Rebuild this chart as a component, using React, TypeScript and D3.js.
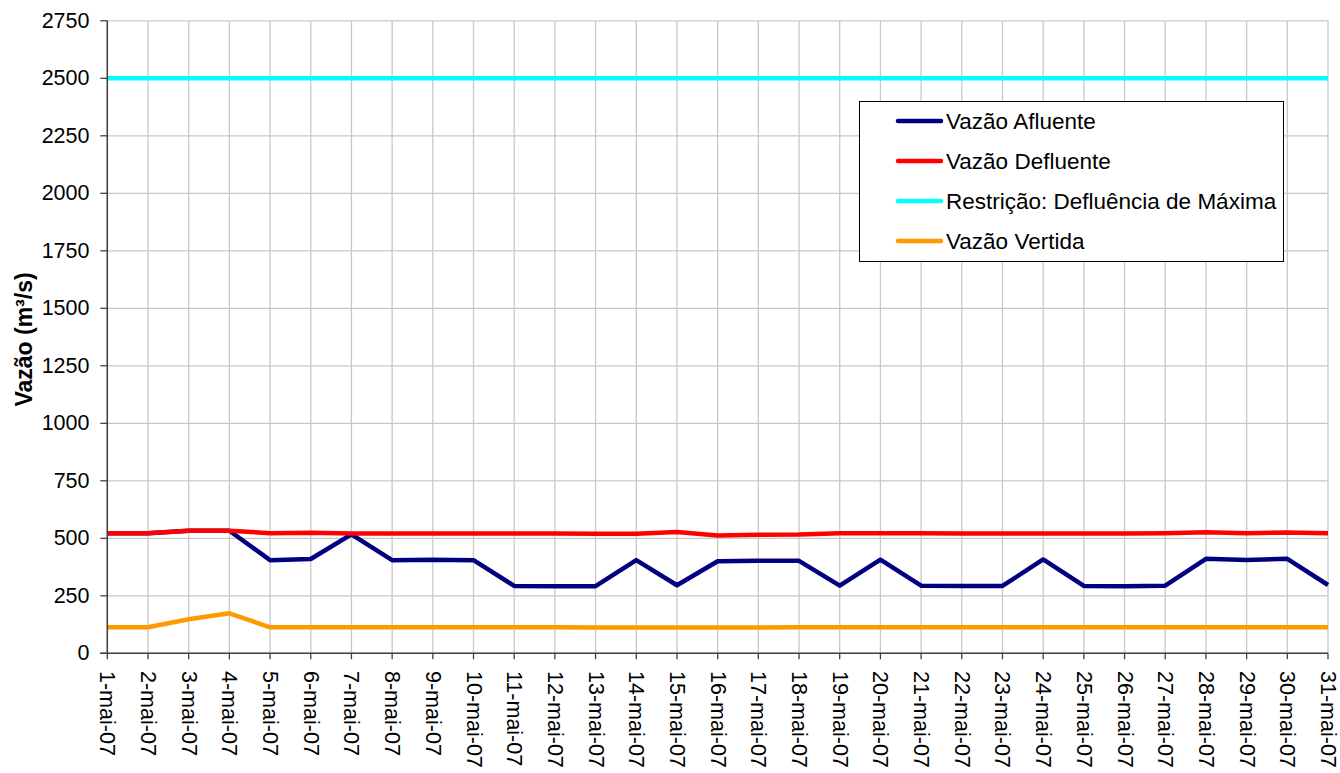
import React from "react";
import * as d3 from "d3";

const categories = [
  "1-mai-07", "2-mai-07", "3-mai-07", "4-mai-07", "5-mai-07", "6-mai-07", "7-mai-07", "8-mai-07",
  "9-mai-07", "10-mai-07", "11-mai-07", "12-mai-07", "13-mai-07", "14-mai-07", "15-mai-07", "16-mai-07",
  "17-mai-07", "18-mai-07", "19-mai-07", "20-mai-07", "21-mai-07", "22-mai-07", "23-mai-07", "24-mai-07",
  "25-mai-07", "26-mai-07", "27-mai-07", "28-mai-07", "29-mai-07", "30-mai-07", "31-mai-07",
];

const vazaoAfluente = [
  522, 522, 533, 533, 405, 410, 517, 405, 407, 405, 293, 292, 292, 405, 296, 400,
  402, 402, 294, 407, 294, 293, 293, 408, 293, 291, 294, 411, 406, 411, 297,
];
const vazaoDefluente = [
  522, 522, 533, 533, 522, 524, 521, 521, 521, 521, 521, 521, 520, 520, 527, 512,
  515, 516, 522, 522, 522, 521, 521, 521, 521, 521, 522, 526, 522, 525, 522,
];
const restricao = [
  2500, 2500, 2500, 2500, 2500, 2500, 2500, 2500, 2500, 2500, 2500, 2500, 2500, 2500, 2500, 2500,
  2500, 2500, 2500, 2500, 2500, 2500, 2500, 2500, 2500, 2500, 2500, 2500, 2500, 2500, 2500,
];
const vazaoVertida = [
  113, 113, 148, 174, 113, 113, 113, 113, 113, 113, 113, 113, 112, 112, 112, 112,
  112, 113, 113, 113, 113, 113, 113, 113, 113, 113, 113, 113, 113, 113, 113,
];

const yTicks = [0, 250, 500, 750, 1000, 1250, 1500, 1750, 2000, 2250, 2500, 2750];

const seriesNames = [
  "Vazão Afluente",
  "Vazão Defluente",
  "Restrição: Defluência de Máxima",
  "Vazão Vertida",
];
const seriesColors = ["#000080", "#ff0000", "#00ffff", "#ff9900"];
const seriesValues = [vazaoAfluente, vazaoDefluente, restricao, vazaoVertida];

const W = 1340;
const H = 773;
const left = 107.3;
const right = 1328;
const top = 20.8;
const bottom = 653.3;
const FONT = "Liberation Sans, Arial, sans-serif";

export default function App() {
  const x = d3.scalePoint<string>().domain(categories).range([left, right]);
  const y = d3.scaleLinear().domain([0, 2750]).range([bottom, top]);
  const line = d3
    .line<number>()
    .x((_, i) => x(categories[i]) as number)
    .y((d) => y(d));

  const legendX = 859.5;
  const legendY = 101.5;
  const legendW = 424;
  const legendH = 160;
  const rowYs = [121, 161, 201, 241];

  return (
    <div style={{ position: "absolute", left: 0, top: 0 }}>
      <svg width={W} height={H} style={{ display: "block", background: "#fff" }}>
        <rect x={0} y={0} width={W} height={H} fill="#fff" />
        {yTicks.map((t) => (
          <line key={"gy" + t} x1={left} x2={right} y1={y(t)} y2={y(t)} stroke="#c8c8c8" strokeWidth={1.3} />
        ))}
        {categories.map((c) => (
          <line key={"gx" + c} x1={x(c)} x2={x(c)} y1={top} y2={bottom} stroke="#c8c8c8" strokeWidth={1.3} />
        ))}
        {seriesValues.map((vals, i) => (
          <path
            key={seriesNames[i]}
            d={line(vals) || ""}
            fill="none"
            stroke={seriesColors[i]}
            strokeWidth={4.5}
            strokeLinejoin="round"
          />
        ))}
        <line x1={left} x2={left} y1={top} y2={bottom} stroke="#404040" strokeWidth={1.5} />
        <line x1={left - 7} x2={right} y1={bottom} y2={bottom} stroke="#404040" strokeWidth={1.5} />
        {yTicks.map((t) => (
          <g key={"yt" + t}>
            <line x1={left - 7} x2={left} y1={y(t)} y2={y(t)} stroke="#404040" strokeWidth={1.3} />
            <text
              x={89.5}
              y={y(t)}
              textAnchor="end"
              dominantBaseline="central"
              fontFamily={FONT}
              fontSize={21.5}
              fill="#000"
            >
              {t}
            </text>
          </g>
        ))}
        {categories.map((c) => (
          <g key={"xt" + c}>
            <line x1={x(c)} x2={x(c)} y1={bottom} y2={bottom + 6} stroke="#404040" strokeWidth={1.3} />
            <text
              transform={`translate(${x(c)},${671}) rotate(90)`}
              textAnchor="start"
              dominantBaseline="central"
              fontFamily={FONT}
              fontSize={21.5}
              fill="#000"
            >
              {c}
            </text>
          </g>
        ))}
        <text
          transform={`translate(32,339.5) rotate(-90)`}
          textAnchor="middle"
          fontFamily={FONT}
          fontSize={23}
          fontWeight="bold"
          fill="#000"
        >
          Vazão (m³/s)
        </text>
        <rect x={legendX} y={legendY} width={legendW} height={legendH} fill="#fff" stroke="#000" strokeWidth={1} />
        {seriesNames.map((n, i) => (
          <g key={"lg" + n}>
            <line x1={898} x2={941} y1={rowYs[i]} y2={rowYs[i]} stroke={seriesColors[i]} strokeWidth={4.5} strokeLinecap="round" />
            <text x={946} y={rowYs[i]} dominantBaseline="central" fontFamily={FONT} fontSize={22.5} fill="#000">
              {n}
            </text>
          </g>
        ))}
      </svg>
    </div>
  );
}
